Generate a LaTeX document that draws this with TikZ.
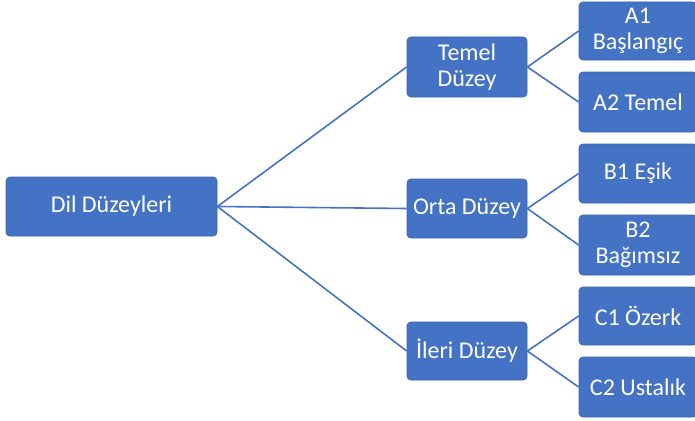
\documentclass[tikz,border=0pt]{standalone}
\usepackage{fontspec}
\setmainfont{Carlito}
\usetikzlibrary{positioning}
\definecolor{boxblue}{HTML}{4472C4}
\definecolor{edgeblue}{HTML}{3B64AE}

\begin{document}
\begin{tikzpicture}[x=1pt,y=-1pt,
    box/.style={draw=edgeblue, fill=boxblue, line width=0.8pt, rounded corners=4pt,
        text=white, align=center, inner sep=0pt,
        font=\fontsize{24}{26}\selectfont},
    link/.style={draw=boxblue, line width=1.6pt}]
    \useasboundingbox (0,0) rectangle (695,420);
    % root
    \node[box, minimum width=211pt, minimum height=59pt] (dil) at (111.5,206.5) {Dil Düzeyleri};
    % levels
    \node[box, minimum width=120pt, minimum height=60pt] (temel) at (467,67) {Temel\\Düzey};
    \node[box, minimum width=120pt, minimum height=59pt] (orta) at (467,208.5) {Orta Düzey};
    \node[box, minimum width=120pt, minimum height=58pt] (ileri) at (467,351) {İleri Düzey};
    % sublevels
    \node[box, minimum width=118pt, minimum height=58pt] (aone) at (638,31) {A1\\Başlangıç};
    \node[box, minimum width=118pt, minimum height=60pt] (atwo) at (638,102) {A2 Temel};
    \node[box, minimum width=118pt, minimum height=59pt] (bone) at (638,173.5) {B1 Eşik};
    \node[box, minimum width=118pt, minimum height=60pt] (btwo) at (638,245) {B2\\Bağımsız};
    \node[box, minimum width=118pt, minimum height=58pt] (cone) at (638,316) {C1 Özerk};
    \node[box, minimum width=118pt, minimum height=60pt] (ctwo) at (638,387) {C2 Ustalık};
    % links
    \foreach \n in {temel,orta,ileri}
        \draw[link] (dil.east) -- (\n.west);
    \draw[link] (temel.east) -- (aone.west);
    \draw[link] (temel.east) -- (atwo.west);
    \draw[link] (orta.east) -- (bone.west);
    \draw[link] (orta.east) -- (btwo.west);
    \draw[link] (ileri.east) -- (cone.west);
    \draw[link] (ileri.east) -- (ctwo.west);
\end{tikzpicture}
\end{document}
